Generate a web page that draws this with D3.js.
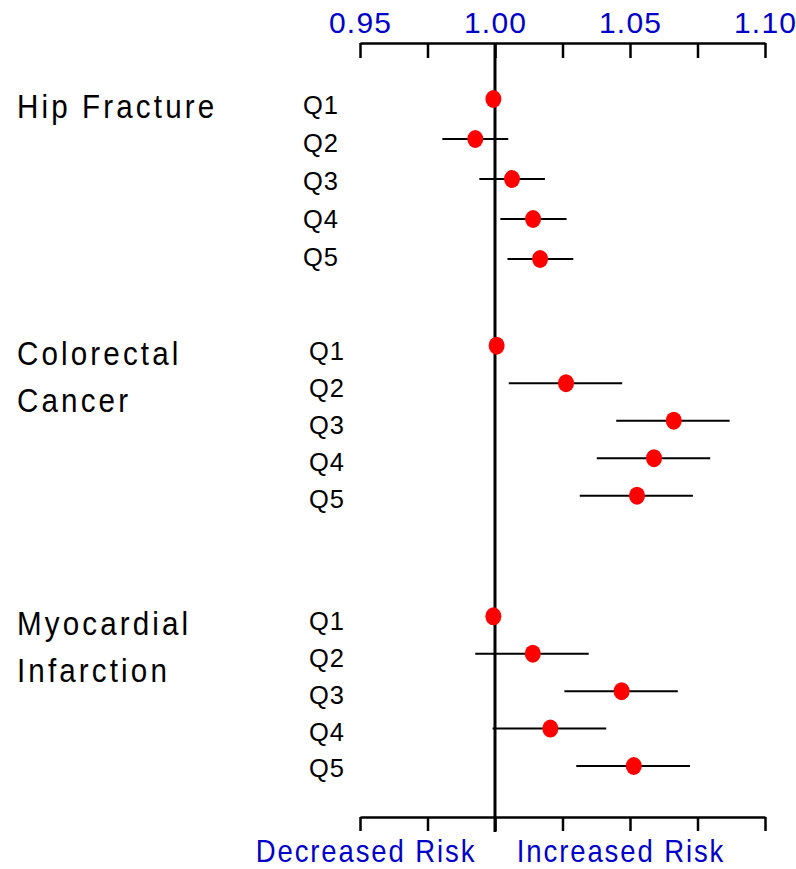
<!DOCTYPE html>
<html>
<head>
<meta charset="utf-8">
<script src="https://cdn.jsdelivr.net/npm/d3@7"></script>
<style>
  html, body { margin: 0; padding: 0; background: #fff; }
  svg { display: block; font-family: "Liberation Sans", Arial, sans-serif; }
</style>
</head>
<body>
<svg id="chart" width="796" height="869"></svg>
<script>
// ---- data ----
const groups = ["Hip Fracture", "Colorectal Cancer", "Myocardial Infarction"];
const groupLines = [["Hip Fracture"], ["Colorectal", "Cancer"], ["Myocardial", "Infarction"]];
const quintiles = ["Q1", "Q2", "Q3", "Q4", "Q5"];

const hipEst = [0.9994, 0.9927, 1.0063, 1.0141, 1.0167];
const hipLo  = [null,   0.9805, 0.9942, 1.0020, 1.0046];
const hipHi  = [null,   1.0049, 1.0185, 1.0265, 1.0290];

const crcEst = [1.0006, 1.0263, 1.0662, 1.0589, 1.0526];
const crcLo  = [null,   1.0051, 1.0449, 1.0377, 1.0314];
const crcHi  = [null,   1.0471, 1.0869, 1.0797, 1.0733];

const miEst  = [0.9994, 1.0140, 1.0469, 1.0205, 1.0514];
const miLo   = [null,   0.9927, 1.0257, 0.9991, 1.0301];
const miHi   = [null,   1.0347, 1.0677, 1.0412, 1.0722];

const tickValues  = [0.95, 0.975, 1.00, 1.025, 1.05, 1.075, 1.10];
const tickLabels  = [0.95, 1.00, 1.05, 1.10];
const directionLabels = ["Decreased Risk", "Increased Risk"];

// ---- layout ----
const svg = d3.select("#chart");
const x = d3.scaleLinear().domain([0.95, 1.10]).range([360, 765]);
const topY = 43, botY = 817, tickLen = 15;
const groupRanges = [[99, 259], [345.7, 495.7], [616.3, 766]];
const labelRanges = [[105, 257], [351.5, 499], [621.5, 768.5]];
const qLabelX = [303, 309, 309];
const est = [hipEst, crcEst, miEst], lo = [hipLo, crcLo, miLo], hi = [hipHi, crcHi, miHi];
const blue = "#0000c8";

// top axis
const topAxis = d3.axisBottom(x).tickValues(tickValues).tickSize(tickLen).tickSizeOuter(0).tickFormat("");
const gTop = svg.append("g").attr("transform", `translate(0,${topY})`).call(topAxis);
gTop.selectAll("path.domain").attr("stroke", "#000").attr("stroke-width", 2.5);
gTop.selectAll(".tick line").attr("stroke", "#000").attr("stroke-width", 2.5);

svg.append("g").selectAll("text").data(tickLabels).join("text")
  .attr("x", d => x(d) + 0.6)
  .attr("y", 33)
  .attr("text-anchor", "middle")
  .attr("font-size", 30)
  .attr("letter-spacing", 1.2)
  .attr("fill", blue)
  .text(d => d.toFixed(2));

// bottom axis
const botAxis = d3.axisBottom(x).tickValues(tickValues).tickSize(tickLen - 1).tickSizeOuter(0).tickFormat("");
const gBot = svg.append("g").attr("transform", `translate(0,${botY})`).call(botAxis);
gBot.selectAll("path.domain").attr("stroke", "#000").attr("stroke-width", 2.5);
gBot.selectAll(".tick line").attr("stroke", "#000").attr("stroke-width", 2.5);

// reference line at 1.00
svg.append("line")
  .attr("x1", x(1)).attr("x2", x(1))
  .attr("y1", topY).attr("y2", botY + tickLen)
  .attr("stroke", "#000").attr("stroke-width", 3);

// direction labels
const dirX = [366, 621];
directionLabels.forEach((t, i) => {
  svg.append("text")
    .attr("transform", `translate(${dirX[i]},862) scale(0.86,1)`)
    .attr("text-anchor", "middle")
    .attr("font-size", 32)
    .attr("letter-spacing", 2.2)
    .attr("fill", blue)
    .text(t);
});

// groups
groups.forEach((g, gi) => {
  const y = d3.scalePoint().domain(quintiles).range(groupRanges[gi]);
  const yl = d3.scalePoint().domain(quintiles).range(labelRanges[gi]);
  const gg = svg.append("g");

  // group label
  groupLines[gi].forEach((line, li) => {
    gg.append("text")
      .attr("transform", `translate(17,${groupRanges[gi][0] + 19 + li * 47}) scale(0.87,1)`)
      .attr("font-size", 34)
      .attr("letter-spacing", 3.6)
      .attr("fill", "#000")
      .text(line);
  });

  // quintile labels
  gg.selectAll("text.q").data(quintiles).join("text")
    .attr("class", "q")
    .attr("x", qLabelX[gi])
    .attr("y", d => yl(d))
    .attr("dy", "0.35em")
    .attr("font-size", 25.5)
    .attr("letter-spacing", 0.8)
    .attr("fill", "#000")
    .text(d => d);

  const rows = quintiles.map((q, i) => ({ q, est: est[gi][i], lo: lo[gi][i], hi: hi[gi][i] }));

  // CI lines
  gg.selectAll("line.ci").data(rows.filter(r => r.lo != null)).join("line")
    .attr("class", "ci")
    .attr("x1", d => x(d.lo)).attr("x2", d => x(d.hi))
    .attr("y1", d => y(d.q)).attr("y2", d => y(d.q))
    .attr("stroke", "#000").attr("stroke-width", 2);

  // point estimates
  gg.selectAll("ellipse").data(rows).join("ellipse")
    .attr("cx", d => x(d.est)).attr("cy", d => y(d.q))
    .attr("rx", 8).attr("ry", 9)
    .attr("fill", "#ff0000");
});
</script>
</body>
</html>
